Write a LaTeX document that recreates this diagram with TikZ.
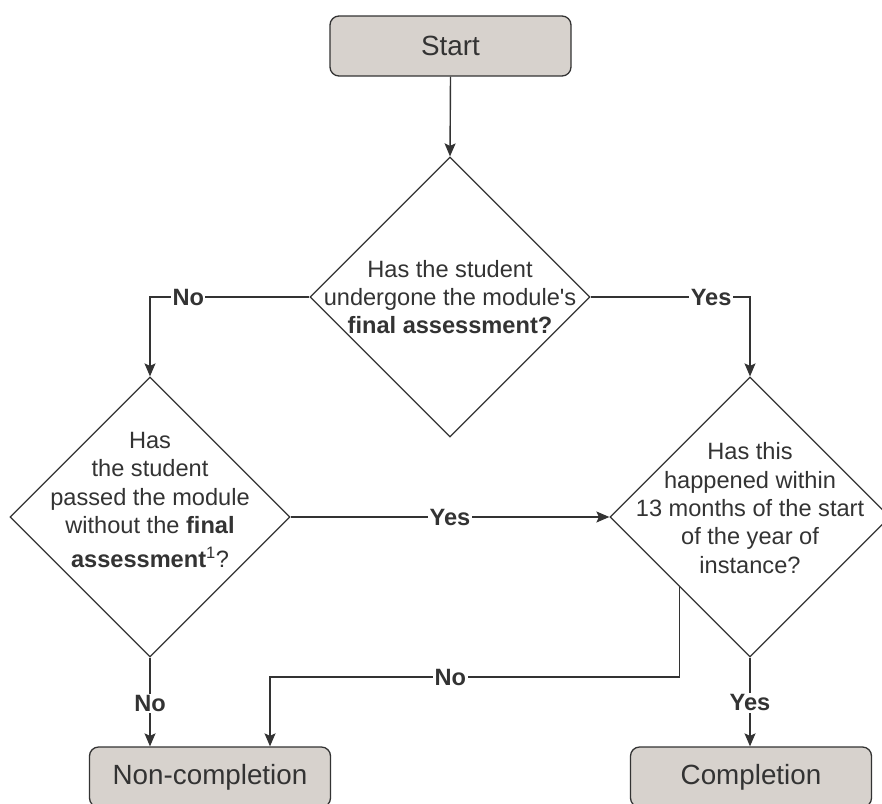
\documentclass[tikz,border=0pt]{standalone}
\usepackage{fontspec}
\setmainfont{Liberation Sans}
\usetikzlibrary{shapes.geometric,arrows.meta,calc}
\definecolor{boxfill}{RGB}{215,210,205}
\definecolor{ink}{RGB}{51,51,51}
\tikzset{
  termbox/.style={draw=ink, line width=1.3pt, fill=boxfill, rounded corners=9pt,
    minimum width=241pt, minimum height=60pt, inner sep=0pt, text=ink,
    font=\fontsize{27.8}{33}\selectfont},
  decision/.style={draw=ink, line width=1.2pt, diamond, minimum width=280pt,
    minimum height=280pt, inner sep=0pt, fill=white},
  qtext/.style={align=center, text=ink, inner sep=0pt,
    font=\fontsize{23.6}{28.4}\selectfont},
  conn/.style={draw=ink, line width=1.4pt},
  arr/.style={conn, -{Stealth[length=13pt,width=11pt,inset=2.5pt]}},
  lbl/.style={fill=white, inner sep=1.5pt, text=ink,
    font=\bfseries\fontsize{23.6}{28}\selectfont}
}
\begin{document}
\begin{tikzpicture}[x=1pt,y=-1pt]
\useasboundingbox (0,0) rectangle (882,803);
\clip (0,0) rectangle (882,803);

\node[termbox] (start) at (450.5,46) {Start};
\node[decision] (d1) at (450,297) {};
\node[decision] (d2) at (150,517) {};
\node[decision] (d3) at (750,517) {};
\node[termbox] (nonc) at (210,777) {Non-completion};
\node[termbox] (comp) at (751,777) {Completion};

\node[qtext] (t1) at (450,297) {Has the student\\undergone the module\textquotesingle s\\\textbf{final assessment?}};
\node[qtext] (t2) at (150,500) {Has\\the student\\passed the module\\without the \textbf{final}\\[6pt]\textbf{assessment}\textsuperscript{1}?};
\node[qtext] (t3) at (750,508) {Has this\\happened within\\13 months of the start\\of the year of\\instance?};

\coordinate (d3no) at ($(d3.west)!0.5!(d3.south)$);
\coordinate (nojoin) at (d3no |- 0,677);
\coordinate (nocorner) at (270,677);

\draw[arr] (start.south) -- (d1.north);
\draw[arr] (d1.west) -- node[lbl,pos=0.76]{No} (d1.west -| d2.north) -- (d2.north);
\draw[arr] (d1.east) -- node[lbl,pos=0.756]{Yes} (d1.east -| d3.north) -- (d3.north);
\draw[arr] (d2.east) -- node[lbl,pos=0.5]{Yes} (d3.west);
\draw[arr] (d3no) -- (nojoin) -- node[lbl,pos=0.56]{No} (nocorner) -- (nocorner |- nonc.north);
\draw[arr] (d2.south) -- node[lbl,pos=0.52]{No} (d2.south |- nonc.north);
\draw[arr] (d3.south) -- node[lbl,pos=0.51]{Yes} (d3.south |- comp.north);
\end{tikzpicture}
\end{document}
